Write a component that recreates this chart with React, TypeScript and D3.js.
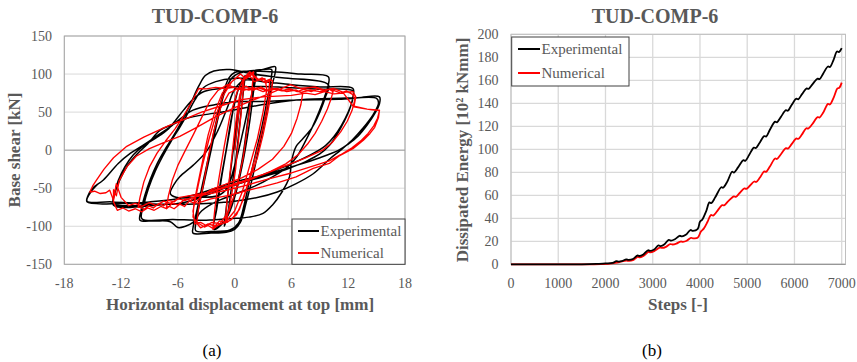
import React from "react";
import * as d3 from "d3";

type Pt = [number, number];

const FONT = "'Liberation Serif', 'Times New Roman', serif";
const GRID = "#d9d9d9";
const TEXT = "#595959";
const AXIS = "#8c8c8c";

// ---------- Hysteresis: horizontal displacement [mm] vs base shear [kN] ----------
const dispTicks = [-18, -12, -6, 0, 6, 12, 18];
const shearTicks = [-150, -100, -50, 0, 50, 100, 150];

const expSmall: Pt[] = [
  [0, 0], [0.4, 45], [0.8, 85], [1.1, 98], [0.9, 75], [0.5, 30], [0.1, -15], [-0.4, -55], [-0.8, -88],
  [-1.1, -100], [-0.9, -78], [-0.5, -35], [-0.1, 5], [0.4, 55], [0.9, 88], [1.6, 100], [2.1, 104],
  [1.9, 82], [1.4, 40], [0.9, -5], [0.2, -50], [-0.6, -82], [-1.4, -98], [-2.2, -104], [-2.0, -82],
  [-1.5, -42], [-0.9, 0], [-0.3, 45], [0.4, 80], [1.2, 97], [2.2, 103], [2.0, 78], [1.5, 30],
  [0.8, -20], [0, -62], [-0.9, -90], [-2.2, -103], [-1.9, -78], [-1.3, -30], [-0.6, 20],
];

const expMedium: Pt[] = [
  [0, 62], [0.8, 92], [1.8, 102], [3.0, 106], [4.3, 109.6], [4.3, 103], [3.8, 78], [3.3, 45],
  [2.6, 5], [1.9, -35], [1.2, -70], [0.6, -95], [0, -104], [-0.9, -108], [-2.5, -109], [-4.4, -109],
  [-4.4, -102], [-4.0, -80], [-3.4, -45], [-2.6, 0], [-1.9, 40], [-1.2, 75], [-0.6, 95],
  [0, 102], [1.5, 104], [3.0, 106], [3.9, 106], [3.9, 98], [3.5, 70], [2.9, 32], [2.3, 0], [1.6, -38],
  [1.0, -72], [0.4, -96], [-0.5, -105], [-2.5, -107], [-4.1, -106], [-4.1, -96], [-3.7, -70],
  [-3.1, -35],
];

const expLarge10: Pt[] = [
  [-2.4, 5], [-1.7, 45], [-1.0, 78], [-0.2, 96], [1.0, 103], [4.0, 103], [7.0, 100], [9.9, 96.5],
  [9.9, 86], [9.5, 70], [8.9, 50], [8.2, 30], [7.4, 10], [6.6, -8], [5.6, -22], [4.0, -35],
  [2.0, -48], [0, -58], [-2.0, -68], [-3.5, -80], [-4.4, -95], [-5.2, -100], [-6.0, -101.7],
  [-6.8, -94], [-8.5, -93], [-10.0, -92], [-9.9, -80], [-9.5, -60], [-8.9, -38], [-8.2, -18],
  [-7.4, 0], [-6.5, 18], [-5.6, 38], [-4.7, 60], [-3.8, 84], [-3.1, 98], [-2.2, 104], [-0.5, 106],
  [2.0, 100], [5.0, 95], [9.9, 86], [9.6, 70], [9.0, 50], [8.2, 30], [7.2, 15], [6.5, 5],
  [6.0, -15], [5.8, -35], [5.0, -55], [4.0, -72], [3.0, -83], [1.5, -88], [-0.5, -90], [-3, -92],
  [-6.5, -91], [-9.8, -90], [-9.6, -72], [-9.1, -50], [-8.4, -28], [-7.6, -8], [-6.7, 12],
  [-5.8, 30], [-5.1, 45], [-4.2, 66], [-3.3, 82], [-2.0, 90], [-0.1, 94], [2, 92],
  [1.5, 60], [0.8, 20], [0, -20], [-0.8, -50], [-1.8, -60], [-4, -62], [-6.2, -62], [-6.8, -57],
  [-6.4, -45], [-5.8, -35], [-4.4, -20], [-3, -2], [-1.8, 25], [-0.8, 55], [0, 80], [1, 92],
];

const expLarge12: Pt[] = [
  [3, 90], [6, 86], [9, 83], [12.5, 81], [12.5, 70], [12.1, 52], [11.5, 36], [10.8, 20], [10.0, 6],
  [9.0, -5], [7.5, -15], [5.5, -25], [3.0, -35], [0, -45], [-2, -52], [-3.5, -60], [-5, -68],
  [-8, -72], [-12.8, -72.4], [-12.7, -58], [-12.3, -40], [-11.6, -22], [-10.7, -6], [-9.6, 6],
  [-8.3, 16], [-7, 28], [-6.2, 40], [-5.4, 52.6], [-4.3, 68], [-3.3, 76.7], [-1.5, 81], [-0.1, 83],
  [3, 83.5], [6, 82], [9, 80], [12.5, 78], [12.5, 68], [12.0, 50], [11.3, 33], [10.5, 18],
  [9.6, 6], [8.2, -5], [6.0, -18], [3.5, -30], [1.0, -42], [-1.5, -52], [-3.5, -62], [-5.5, -69],
  [-9, -72], [-12.8, -70], [-12.6, -54], [-12.1, -38], [-11.3, -20], [-10.3, -5], [-9.2, 8],
  [-7.9, 26], [-6.5, 34], [-5.1, 41.7], [-2.5, 48], [-0.1, 52.6], [3, 60], [6.5, 66], [10, 68],
  [13, 69], [15.3, 70],
];

const expLarge15: Pt[] = [
  [15.3, 61], [14.8, 48], [14.0, 33], [13.0, 18], [12.0, 8], [11.0, 0], [9.0, -10], [6.0, -22],
  [3.0, -33], [0, -42], [-2, -50], [-4, -58], [-6, -64], [-9, -68], [-12, -70], [-15.6, -68],
  [-15.5, -60], [-15.0, -50], [-13.9, -39.5], [-12.3, -17.5], [-11.0, -4], [-9.5, 8], [-8.2, 19],
  [-6.8, 30.7], [-4.4, 52.6], [-2, 60], [-0.1, 63.6], [3, 64], [6.5, 66], [11, 67], [15.0, 68],
  [15.2, 62], [14.6, 46], [13.5, 28], [12.4, 13], [11.2, 0], [10.1, -11], [8.3, -31], [6.5, -44],
  [4.5, -55], [2.5, -62], [0, -67], [-3, -70], [-8, -71], [-13, -68], [-15.6, -67], [-15.2, -55],
  [-14.5, -45],
];

const numSmall: Pt[] = [
  [0, 0], [0.3, 35], [0.6, 70], [0.9, 90], [1.0, 94], [0.8, 65], [0.5, 25], [0.1, -25], [-0.4, -65],
  [-0.8, -88], [-1.0, -96], [-0.8, -65], [-0.4, -20], [0.0, 25], [0.5, 70], [1.0, 92], [1.6, 100],
  [2.0, 103], [1.8, 75], [1.4, 35], [0.9, -10], [0.2, -50], [-0.6, -80], [-1.5, -96], [-2.3, -104],
  [-2.1, -78], [-1.7, -40], [-1.1, 5], [-0.5, 45], [0.3, 78], [1.0, 95], [1.6, 103], [2.0, 97],
];

const numMedium: Pt[] = [
  [2.4, 92], [2.9, 95], [3.3, 91], [3.7, 93], [4.0, 91], [3.9, 78], [3.5, 50], [3.0, 20], [2.4, -10],
  [1.6, -38], [0.9, -65], [0.2, -85], [-0.8, -95], [-1.6, -93], [-2.3, -103], [-2.8, -99],
  [-3.2, -101], [-3.7, -97], [-4.1, -93], [-4.4, -88], [-4.3, -70], [-3.9, -45], [-3.4, -15],
  [-2.8, 20], [-2.1, 50], [-1.3, 75], [-0.5, 88], [0.3, 96], [0.9, 92], [1.5, 99], [2.1, 90],
  [2.7, 93], [3.3, 88], [3.7, 92], [3.6, 70], [3.2, 42], [2.6, 10], [1.9, -22], [1.2, -52],
  [0.5, -78], [-0.4, -92], [-1.4, -97], [-2.4, -95], [-3.0, -99], [-3.6, -95], [-4.2, -97],
  [-4.4, -80], [-4.0, -55], [-3.4, -20], [-2.7, 15], [-2.0, 45], [-1.2, 72], [-0.3, 90],
  [0.6, 100], [1.2, 94], [1.9, 100], [2.6, 92], [3.2, 94], [3.4, 80], [3.0, 50], [2.4, 15],
  [1.6, -20], [0.8, -55], [0, -80], [-1.0, -95], [-2.0, -100], [-2.8, -97], [-3.6, -102],
  [-4.0, -96], [-3.8, -75], [-3.3, -45], [-2.8, -10],
];

const numLarge7: Pt[] = [
  [-2.2, 25], [-1.5, 55], [-0.6, 75], [0.5, 82], [1.5, 79], [2.5, 82], [3.5, 78], [4.5, 81],
  [5.5, 77], [6.5, 79], [7.2, 75], [7.0, 60], [6.6, 42], [6.0, 22], [5.2, 5], [4.0, -12],
  [2.5, -25], [0.8, -36], [-1, -45], [-2.5, -52], [-3.5, -60], [-4.2, -70], [-4.8, -67],
  [-5.3, -74], [-5.8, -71], [-6.4, -77], [-6.9, -74], [-7.2, -75], [-7.0, -60], [-6.6, -40],
  [-6.0, -20], [-5.2, 0], [-4.3, 22], [-3.4, 45], [-2.6, 65], [-1.8, 78], [-0.8, 86],
];

const numLarge10: Pt[] = [
  [0.5, 80], [1.2, 84], [2.0, 79], [2.8, 83], [3.5, 78], [4.3, 81], [5.0, 78], [5.8, 81], [6.6, 77],
  [7.3, 80], [8.1, 77], [8.8, 81], [9.5, 78], [10.0, 80], [10.4, 77], [10.2, 68], [9.8, 54],
  [9.2, 38], [8.5, 22], [7.7, 8], [6.7, -6], [5.4, -18], [3.8, -28], [2.0, -37], [0, -46],
  [-2, -53], [-3.8, -58], [-5.8, -62], [-6.4, -68], [-7.0, -66], [-7.5, -73], [-8.0, -70],
  [-8.6, -76], [-9.1, -73], [-9.6, -78], [-10.0, -75], [-10.2, -75], [-10.0, -62], [-9.6, -42],
  [-9.0, -22], [-8.2, -4], [-7.3, 12], [-6.3, 28], [-5.4, 45], [-4.6, 62], [-3.8, 81],
];

const numLarge12: Pt[] = [
  [-3.0, 80.5], [-2.0, 82.5], [-1.0, 81], [-0.1, 82.5], [1.0, 79], [2.0, 82], [3.0, 77], [4.0, 81],
  [5.0, 78], [6.0, 80], [7.0, 76], [8.0, 79], [9.0, 77], [10.0, 80], [10.6, 78], [11.2, 75],
  [11.8, 78], [12.5, 73], [12.7, 66], [12.4, 52], [11.9, 38], [11.2, 24], [10.3, 10], [9.3, 0],
  [7.5, -10], [5.5, -20], [3.0, -32], [0.3, -43], [-2, -52], [-4, -60], [-4.6, -66], [-5.2, -64],
  [-6, -72], [-6.6, -70], [-7.2, -77], [-7.8, -74], [-8.5, -79], [-9.2, -76], [-9.8, -81],
  [-10.5, -77], [-11.2, -80], [-11.8, -76], [-12.4, -79], [-12.8, -68], [-12.8, -52], [-12.5, -60],
  [-12.2, -40], [-11.4, -22], [-10.4, -8], [-9, 2], [-7.5, 10], [-5.8, 18], [-4, 30], [-2, 44],
  [0, 56], [2, 66], [4, 76], [5.9, 86], [7, 81], [8.5, 83], [9.5, 79], [10.5, 81], [11.5, 76],
  [12.5, 77], [12.8, 70], [12.6, 57],
];

const numLarge15: Pt[] = [
  [13.5, 55], [14.5, 53], [15.3, 52], [15.1, 42], [14.7, 32], [14.1, 22], [13.4, 13], [12.4, 3],
  [11.2, -6], [10.0, -14], [8.0, -22], [6.0, -30], [3.5, -38], [1.0, -47], [-1, -53], [-3, -58],
  [-4.5, -62], [-5.2, -66], [-6, -64], [-6.8, -70], [-7.5, -67], [-8.3, -73], [-9, -69],
  [-9.8, -74], [-10.5, -70], [-11.2, -73], [-12, -62], [-12.5, -44], [-12.8, -66], [-13.2, -52.6],
  [-13.6, -56], [-14.2, -57], [-14.8, -54], [-15.3, -55], [-15.0, -47], [-14.6, -39.5],
  [-13.8, -25], [-12.8, -10], [-11.4, 5], [-9.6, 17], [-7.2, 31], [-5.2, 41], [-3.5, 50],
  [-1.5, 58], [0.5, 66], [3, 70], [6, 72], [7.5, 75], [8.5, 73], [9.5, 77], [10.5, 74], [11.5, 75],
  [12.5, 58], [14, 54], [15.3, 52.6], [15.2, 43], [14.8, 30], [14.3, 22], [13.6, 13], [12.5, 2],
  [11, -8], [10, -17.5], [8.3, -24], [6.5, -35], [4.5, -43], [3, -48], [1, -54], [-0.5, -59],
  [-2.5, -64], [-4, -70],
];

const experimental: Pt[] = [...expSmall, ...expMedium, ...expLarge10, ...expLarge12, ...expLarge15];
const numerical: Pt[] = [...numSmall, ...numMedium, ...numLarge7, ...numLarge10, ...numLarge12, ...numLarge15];

// ---------- Dissipated energy vs steps ----------
const stepTicks = [0, 1000, 2000, 3000, 4000, 5000, 6000, 7000];
const energyTicks = [0, 20, 40, 60, 80, 100, 120, 140, 160, 180, 200];

const expEnergy: Pt[] = [
  [0, 0], [1500, 0], [1800, 0.3], [2000, 0.8], [2150, 1.2], [2230, 2.8], [2280, 2.4], [2350, 2.8],
  [2440, 4.3], [2490, 3.9], [2580, 4.6], [2680, 7.8], [2720, 7.2], [2800, 8.5], [2900, 12.2],
  [2950, 11.6], [3030, 12.8], [3120, 16.5], [3170, 15.8], [3250, 17.5], [3340, 21.3], [3390, 20.6],
  [3470, 21.8], [3570, 24.8], [3620, 24.2], [3700, 25.6], [3800, 29.8], [3850, 29], [3950, 30.5],
  [4000, 37], [4050, 39], [4130, 46], [4200, 53.8], [4240, 53.2], [4320, 58], [4450, 67],
  [4490, 66.6], [4580, 72], [4680, 80.5], [4720, 79.8], [4810, 84.5], [4920, 90.6], [4960, 90],
  [5040, 95], [5140, 101.5], [5180, 101], [5260, 105.5], [5360, 111.5], [5400, 111], [5480, 117],
  [5590, 124], [5630, 123.5], [5710, 128], [5820, 134], [5860, 133.5], [5940, 138.5], [6040, 144],
  [6080, 143.5], [6160, 148], [6260, 153], [6300, 152.5], [6380, 156.5], [6490, 161.5],
  [6530, 161], [6610, 166], [6710, 172], [6750, 171.5], [6830, 178], [6900, 185], [6940, 184.5],
  [7000, 188],
];

const numEnergy: Pt[] = [
  [0, 0], [1600, 0], [1900, 0.2], [2100, 0.5], [2200, 1.2], [2300, 2], [2440, 3.2], [2500, 2.9],
  [2580, 3.6], [2680, 6.5], [2730, 6.1], [2810, 7.4], [2910, 10.8], [2950, 10.4], [3030, 11.5],
  [3150, 14.6], [3200, 14.2], [3280, 15.2], [3370, 17.6], [3420, 17.2], [3500, 18], [3590, 19.8],
  [3640, 19.5], [3720, 20.5], [3810, 23], [3850, 22.6], [3950, 23], [4020, 28.5], [4080, 31],
  [4160, 37], [4230, 42.8], [4280, 42.4], [4360, 46], [4470, 51.5], [4510, 51.2], [4600, 55],
  [4720, 59], [4760, 58.6], [4840, 62], [4940, 66], [4980, 65.6], [5060, 68.5], [5150, 72],
  [5190, 71.6], [5270, 75.5], [5360, 80.8], [5400, 80.4], [5480, 85], [5590, 92], [5630, 91.6],
  [5710, 95.5], [5820, 101], [5860, 100.6], [5940, 104.5], [6040, 109.5], [6080, 109],
  [6160, 113], [6250, 118.3], [6290, 118], [6380, 122], [6490, 128], [6530, 127.6], [6610, 132],
  [6710, 139.5], [6750, 139], [6830, 145], [6910, 153], [6950, 153.5], [7000, 158],
];

const seriesNames = ["Experimental", "Numerical"];
const seriesColors = ["#000000", "#ff0000"];

function Legend({ x, y, w, h, lineX0, lineX1, rows }: { x: number; y: number; w: number; h: number; lineX0: number; lineX1: number; rows: number[] }) {
  return (
    <g>
      <rect x={x} y={y} width={w} height={h} fill="#fff" stroke="#404040" strokeWidth={1} />
      {seriesNames.map((n, i) => (
        <g key={n}>
          <line x1={lineX0} x2={lineX1} y1={rows[i]} y2={rows[i]} stroke={seriesColors[i]} strokeWidth={2} />
          <text x={lineX1 + 1.5} y={rows[i] + 5} fontSize={15} fill={TEXT} fontFamily={FONT}>{n}</text>
        </g>
      ))}
    </g>
  );
}

function Hysteresis() {
  const x = d3.scaleLinear().domain([-18, 18]).range([64.3, 405]);
  const y = d3.scaleLinear().domain([-150, 150]).range([264.3, 36]);
  const line = d3.line<Pt>().x((d) => x(d[0])).y((d) => y(d[1]));
  const smooth = d3.line<Pt>().x((d) => x(d[0])).y((d) => y(d[1])).curve(d3.curveCatmullRom.alpha(0.5));
  return (
    <g>
      {dispTicks.map((t) => (
        <line key={"gx" + t} x1={x(t)} x2={x(t)} y1={y(150)} y2={y(-150)} stroke={t === 0 ? AXIS : GRID} strokeWidth={1} />
      ))}
      {shearTicks.map((t) => (
        <line key={"gy" + t} x1={x(-18)} x2={x(18)} y1={y(t)} y2={y(t)} stroke={t === 0 ? AXIS : GRID} strokeWidth={1} />
      ))}
      <rect x={x(-18)} y={y(150)} width={x(18) - x(-18)} height={y(-150) - y(150)} fill="none" stroke="#a6a6a6" strokeWidth={1} />
      <path d={smooth(experimental) || ""} fill="none" stroke="#000" strokeWidth={1.5} strokeLinejoin="round" />
      <path d={line(numerical) || ""} fill="none" stroke="#ff0000" strokeWidth={1.35} strokeLinejoin="round" />
      {dispTicks.map((t) => (
        <text key={"tx" + t} x={x(t)} y={288} textAnchor="middle" fontSize={14} fill={TEXT} fontFamily={FONT}>{t}</text>
      ))}
      {shearTicks.map((t) => (
        <text key={"ty" + t} x={52} y={y(t) + 5} textAnchor="end" fontSize={14} fill={TEXT} fontFamily={FONT}>{t}</text>
      ))}
      <text x={215} y={23} textAnchor="middle" fontSize={20} fontWeight="bold" fill={TEXT} fontFamily={FONT}>TUD-COMP-6</text>
      <text x={240} y={310} textAnchor="middle" fontSize={17} fontWeight="bold" fill={TEXT} fontFamily={FONT}>Horizontal displacement at top [mm]</text>
      <text transform="translate(20,150) rotate(-90)" textAnchor="middle" fontSize={17} fontWeight="bold" fill={TEXT} fontFamily={FONT}>Base shear [kN]</text>
      <Legend x={292} y={219} w={113} h={45.3} lineX0={298} lineX1={319} rows={[231, 253]} />
      <text x={212} y={356} textAnchor="middle" fontSize={17} fill="#000" fontFamily={FONT}>(a)</text>
    </g>
  );
}

function Energy() {
  const x = d3.scaleLinear().domain([0, 7000]).range([511, 841.7]);
  const y = d3.scaleLinear().domain([0, 200]).range([264.3, 34.3]);
  const line = d3.line<Pt>().x((d) => x(d[0])).y((d) => y(d[1])).curve(d3.curveCatmullRom.alpha(0.5));
  const right = 845.5;
  return (
    <g>
      {stepTicks.map((t) => (
        <line key={"gx" + t} x1={x(t)} x2={x(t)} y1={y(200)} y2={y(0)} stroke={GRID} strokeWidth={1.3} />
      ))}
      {energyTicks.map((t) => (
        <line key={"gy" + t} x1={x(0)} x2={right} y1={y(t)} y2={y(t)} stroke={GRID} strokeWidth={1.3} />
      ))}
      <rect x={x(0)} y={y(200)} width={right - x(0)} height={y(0) - y(200)} fill="none" stroke="#bfbfbf" strokeWidth={1} />
      <line x1={x(0)} x2={right} y1={y(0)} y2={y(0)} stroke={AXIS} strokeWidth={1} />
      <path d={line(numEnergy) || ""} fill="none" stroke="#ff0000" strokeWidth={1.8} />
      <path d={line(expEnergy) || ""} fill="none" stroke="#000" strokeWidth={1.8} />
      {stepTicks.map((t) => (
        <text key={"tx" + t} x={x(t)} y={288} textAnchor="middle" fontSize={14} fill={TEXT} fontFamily={FONT}>{t}</text>
      ))}
      {energyTicks.map((t) => (
        <text key={"ty" + t} x={498.5} y={y(t) + 5} textAnchor="end" fontSize={14} fill={TEXT} fontFamily={FONT}>{t}</text>
      ))}
      <text x={655} y={23} textAnchor="middle" fontSize={20} fontWeight="bold" fill={TEXT} fontFamily={FONT}>TUD-COMP-6</text>
      <text x={678} y={310} textAnchor="middle" fontSize={17} fontWeight="bold" fill={TEXT} fontFamily={FONT}>Steps [-]</text>
      <text transform="translate(468,150) rotate(-90)" textAnchor="middle" fontSize={17} fontWeight="bold" fill={TEXT} fontFamily={FONT}>Dissipated Energy [10² kNmm]</text>
      <Legend x={511.7} y={37} w={117.3} h={49} lineX0={518} lineX1={540} rows={[49, 73]} />
      <text x={652} y={356} textAnchor="middle" fontSize={17} fill="#000" fontFamily={FONT}>(b)</text>
    </g>
  );
}

export default function App() {
  return (
    <svg width={857} height={362} style={{ position: "absolute", left: 0, top: 0, background: "#fff" }}>
      <rect width={857} height={362} fill="#fff" />
      <Hysteresis />
      <Energy />
    </svg>
  );
}
